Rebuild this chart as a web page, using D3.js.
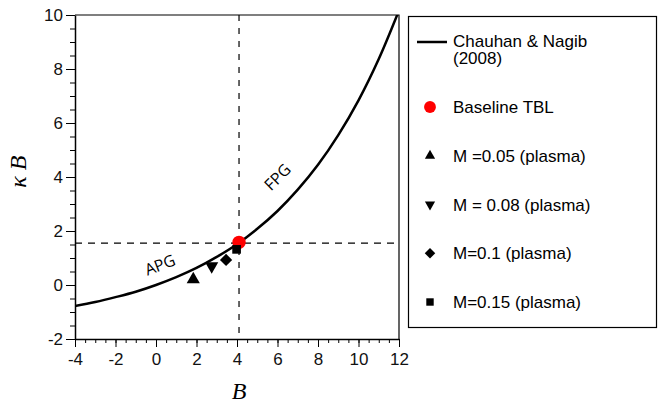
<!DOCTYPE html>
<html>
<head>
<meta charset="utf-8">
<script src="https://cdn.jsdelivr.net/npm/d3@7"></script>
<style>
  body { margin: 0; background: #fff; }
  svg { display: block; }
  .tick text { font-family: "Liberation Sans", Arial, sans-serif; font-size: 17px; fill: #111; }
</style>
</head>
<body>
<div id="svg-container"></div>
<script>
// curve (Chauhan & Nagib 2008)
const curveB = [-4, -3, -2, -1, 0, 1, 2, 3, 4, 5, 6, 7, 8, 9, 10, 11, 12];
const curveKB = [-0.78, -0.63, -0.45, -0.25, 0, 0.29, 0.63, 1.04, 1.51, 2.08, 2.74, 3.53, 4.45, 5.55, 6.84, 8.37, 10.17];

// measured points
const pointNames = ['Baseline TBL', 'M =0.05 (plasma)', 'M = 0.08 (plasma)', 'M=0.1 (plasma)', 'M=0.15 (plasma)'];
const pointB = [4.1, 1.84, 2.75, 3.46, 3.98];
const pointKB = [1.58, 0.21, 0.70, 0.93, 1.32];
const pointShape = ['circle', 'up', 'down', 'diamond', 'square'];
const pointColor = ['#ff0000', '#000', '#000', '#000', '#000'];

// reference lines
const refB = 4.1;
const refKB = 1.55;

const xTicks = [-4, -2, 0, 2, 4, 6, 8, 10, 12];
const yTicks = [-2, 0, 2, 4, 6, 8, 10];

const width = 658;
const height = 406;
const margin = { top: 15, right: 259, bottom: 67, left: 75 };
const innerWidth = width - margin.left - margin.right;
const innerHeight = height - margin.top - margin.bottom;

const svg = d3.select('#svg-container')
  .append('svg')
  .attr('width', width)
  .attr('height', height);

const xScale = d3.scaleLinear().domain([-4, 12]).range([0, innerWidth]);
const yScale = d3.scaleLinear().domain([-2, 10]).range([innerHeight, 0]);

const group = svg.append('g')
  .attr('transform', `translate(${margin.left}, ${margin.top})`);

group.append('clipPath').attr('id', 'clip')
  .append('rect').attr('width', innerWidth).attr('height', innerHeight);

// minor ticks
const minorX = d3.range(-4, 12.01, 0.5);
const minorY = d3.range(-2, 10.01, 0.5);

group.append('g')
  .attr('transform', `translate(0, ${innerHeight})`)
  .call(d3.axisBottom(xScale).tickValues(minorX).tickSize(4).tickFormat(''))
  .call(g => g.select('.domain').remove());

group.append('g')
  .call(d3.axisLeft(yScale).tickValues(minorY).tickSize(5).tickFormat(''))
  .call(g => g.select('.domain').remove());

const plainLabel = d => String(d);

const xAxis = group.append('g')
  .attr('id', 'x-axis')
  .attr('transform', `translate(0, ${innerHeight})`)
  .call(d3.axisBottom(xScale).tickValues(xTicks).tickFormat(plainLabel)
    .tickSize(8).tickSizeOuter(0).tickPadding(5));

const yAxis = group.append('g')
  .attr('id', 'y-axis')
  .call(d3.axisLeft(yScale).tickValues(yTicks).tickFormat(plainLabel)
    .tickSize(9).tickSizeOuter(0).tickPadding(3));

group.selectAll('.tick line').attr('stroke', '#000');
xAxis.select('.domain').attr('stroke-width', 1.5);
yAxis.select('.domain').attr('stroke-width', 1.5);
xAxis.selectAll('.tick text').attr('dy', '0.75em');
yAxis.selectAll('.tick text').attr('dy', '0.35em');

// top and right frame
group.append('path')
  .attr('d', `M0,0H${innerWidth}V${innerHeight}`)
  .attr('fill', 'none')
  .attr('stroke', '#000')
  .attr('stroke-width', 1.2);

// dashed reference lines
group.append('line')
  .attr('x1', 0).attr('x2', innerWidth)
  .attr('y1', yScale(refKB)).attr('y2', yScale(refKB))
  .attr('stroke', '#000').attr('stroke-width', 1.2)
  .attr('stroke-dasharray', '7,6');

group.append('line')
  .attr('x1', xScale(refB)).attr('x2', xScale(refB))
  .attr('y1', 0).attr('y2', innerHeight)
  .attr('stroke', '#000').attr('stroke-width', 1.2)
  .attr('stroke-dasharray', '6,7');

// curve
const line = d3.line()
  .x((d, i) => xScale(curveB[i]))
  .y(d => yScale(d))
  .curve(d3.curveCatmullRom);

group.append('path')
  .datum(curveKB)
  .attr('clip-path', 'url(#clip)')
  .attr('d', line)
  .attr('fill', 'none')
  .attr('stroke', '#000')
  .attr('stroke-width', 2.5);

// region labels
group.append('text')
  .attr('transform', `translate(${xScale(0.3)}, ${yScale(0.55)}) rotate(-21)`)
  .attr('text-anchor', 'middle')
  .style('font-family', '"Open Sans", sans-serif')
  .style('font-size', '16px')
  .text('APG');

group.append('text')
  .attr('transform', `translate(${xScale(6.2)}, ${yScale(3.85)}) rotate(-45)`)
  .attr('text-anchor', 'middle')
  .style('font-family', '"Open Sans", sans-serif')
  .style('font-size', '16px')
  .text('FPG');

const symbolPath = (shape, big) => {
  if (shape === 'circle') return d3.symbol(d3.symbolCircle, big ? 140 : 110)();
  if (shape === 'up' || shape === 'down') return d3.symbol(d3.symbolTriangle, big ? 75 : 45)();
  return d3.symbol(d3.symbolSquare, big ? 75 : 55)();
};
const symbolRotate = shape => (shape === 'down' ? 180 : shape === 'diamond' ? 45 : 0);

// points (baseline circle first, black markers on top)
group.selectAll('.point')
  .data(d3.range(pointNames.length))
  .enter()
  .append('path')
  .attr('class', 'point')
  .attr('d', i => symbolPath(pointShape[i], true))
  .attr('transform', i => `translate(${xScale(pointB[i])}, ${yScale(pointKB[i])}) rotate(${symbolRotate(pointShape[i])})`)
  .attr('fill', i => pointColor[i]);

// axis titles
svg.append('text')
  .attr('x', margin.left + xScale(4.1))
  .attr('y', 399)
  .attr('text-anchor', 'middle')
  .style('font-family', '"Liberation Serif", serif')
  .style('font-style', 'italic')
  .style('font-size', '24px')
  .text('B');

svg.append('text')
  .attr('transform', `translate(26, ${margin.top + yScale(4.2)}) rotate(-90)`)
  .attr('text-anchor', 'middle')
  .style('font-family', '"Liberation Serif", serif')
  .style('font-style', 'italic')
  .style('font-size', '24px')
  .text('κ B');

// legend
const legend = svg.append('g');
legend.append('rect')
  .attr('x', 408.5).attr('y', 16.5)
  .attr('width', 248).attr('height', 311)
  .attr('fill', 'none').attr('stroke', '#000').attr('stroke-width', 1.2);

const legendFont = '"Liberation Sans", Arial, sans-serif';
legend.append('line')
  .attr('x1', 417).attr('x2', 447).attr('y1', 42).attr('y2', 42)
  .attr('stroke', '#000').attr('stroke-width', 2.5);
legend.append('text')
  .attr('x', 453).attr('y', 47)
  .style('font-family', legendFont).style('font-size', '17px')
  .text('Chauhan & Nagib');
legend.append('text')
  .attr('x', 453).attr('y', 64)
  .style('font-family', legendFont).style('font-size', '17px')
  .text('(2008)');

const legendY = d3.scalePoint().domain(d3.range(pointNames.length)).range([107, 302]);

legend.selectAll('.lsym')
  .data(d3.range(pointNames.length))
  .enter()
  .append('path')
  .attr('d', i => symbolPath(pointShape[i], false))
  .attr('transform', i => `translate(430, ${legendY(i)}) rotate(${symbolRotate(pointShape[i])})`)
  .attr('fill', i => pointColor[i]);

legend.selectAll('.ltext')
  .data(pointNames)
  .enter()
  .append('text')
  .attr('x', 453)
  .attr('y', (d, i) => legendY(i) + 6)
  .style('font-family', legendFont).style('font-size', '17px')
  .text(d => d);
</script>
</body>
</html>
